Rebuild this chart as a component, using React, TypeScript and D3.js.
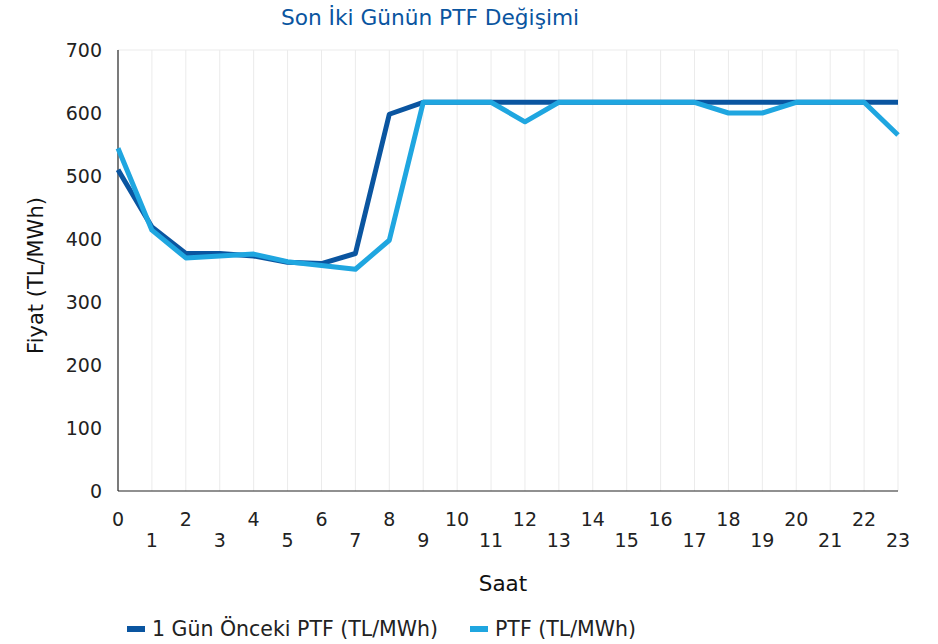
import React from "react";
import * as d3 from "d3";

const hours = d3.range(0, 24);
const previousDay = [510, 419, 377, 377, 373, 363, 361, 377, 598, 617, 617, 617, 617, 617, 617, 617, 617, 617, 617, 617, 617, 617, 617, 617];
const ptf = [544, 414, 370, 373, 376, 364, 358, 352, 398, 617, 617, 617, 586, 617, 617, 617, 617, 617, 600, 600, 617, 617, 617, 565];
const yTicks = [0, 100, 200, 300, 400, 500, 600, 700];
const seriesNames = ["1 Gün Önceki PTF (TL/MWh)", "PTF (TL/MWh)"];
const colors = ["#0A55A0", "#1FA6E0"];

export default function App() {
  const W = 938, H = 644;
  const left = 118, right = 898, top = 50, bottom = 491;
  const x = d3.scaleLinear().domain([0, 23]).range([left, right]);
  const y = d3.scaleLinear().domain([0, 700]).range([bottom, top]);
  const line = d3.line<number>().x((_, i) => x(i)).y((d) => y(d));
  const font = "'DejaVu Sans', sans-serif";
  return (
    <svg width={W} height={H} style={{ position: "absolute", left: 0, top: 0 }} fontFamily={font}>
      <rect width={W} height={H} fill="#fff" />
      <text x={430} y={25} textAnchor="middle" fontSize={21.7} fill="#0A55A0">Son İki Günün PTF Değişimi</text>
      {hours.slice(1).map((h) => (
        <line key={h} x1={x(h)} x2={x(h)} y1={top} y2={bottom} stroke="#EBEBEB" strokeWidth={1} />
      ))}
      <line x1={left} x2={right} y1={y(700)} y2={y(700)} stroke="#EBEBEB" strokeWidth={1} />
      <line x1={left} x2={left} y1={top} y2={bottom} stroke="#222" strokeWidth={1.2} />
      <line x1={left} x2={right} y1={bottom} y2={bottom} stroke="#222" strokeWidth={1.2} />
      {yTicks.map((t) => (
        <text key={t} x={102} y={y(t) + 7} textAnchor="end" fontSize={19} fill="#222">{t}</text>
      ))}
      {hours.map((h) => (
        <text key={h} x={x(h)} y={h % 2 === 0 ? 526 : 547} textAnchor="middle" fontSize={19} fill="#222">{h}</text>
      ))}
      <text x={503} y={591} textAnchor="middle" fontSize={21.5} fill="#111">Saat</text>
      <text transform={`translate(43,${(top + bottom) / 2 + 5}) rotate(-90)`} textAnchor="middle" fontSize={21} fill="#111">Fiyat (TL/MWh)</text>
      <path d={line(previousDay) || ""} fill="none" stroke={colors[0]} strokeWidth={5} strokeLinejoin="round" />
      <path d={line(ptf) || ""} fill="none" stroke={colors[1]} strokeWidth={5} strokeLinejoin="round" />
      <rect x={127} y={626} width={18} height={6} fill={colors[0]} />
      <text x={152} y={636} fontSize={20.5} fill="#222">{seriesNames[0]}</text>
      <rect x={470} y={626} width={18} height={6} fill={colors[1]} />
      <text x={495} y={636} fontSize={20.5} fill="#222">{seriesNames[1]}</text>
    </svg>
  );
}
